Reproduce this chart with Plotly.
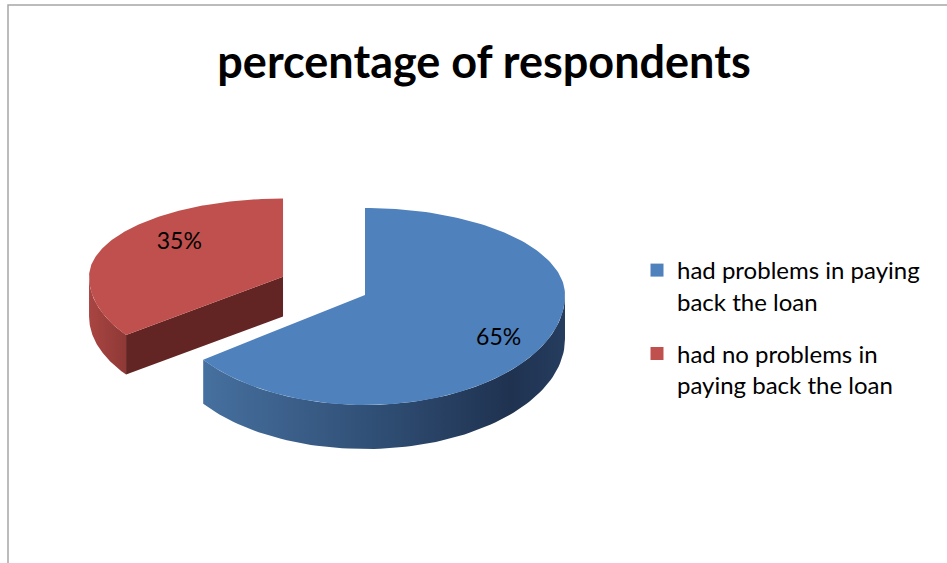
import numpy as np
import plotly.graph_objects as go

# Survey result
categories = ["had problems in paying back the loan", "had no problems in paying back the loan"]
legend_labels = ["had problems in paying<br>back the loan", "had no problems in<br>paying back the loan"]
values = [65, 35]
title_text = "percentage of respondents"

# Colours: top face, outer wall (left -> right gradient), cut face
top_colors = ["#4f81bd", "#c0504d"]
wall_scales = [
    [[0, "#46709f"], [0.5, "#2f4d73"], [0.85, "#1f3250"], [1, "#263d5f"]],
    [[0, "#a94542"], [1, "#8e3936"]],
]
cut_colors = ["#3a5f8c", "#632523"]

# Pie geometry in screen units (y grows downward)
W, H = 947, 563
cx, cy = 365, 295            # centre of the unexploded pie
rx = 200                     # horizontal radius
ry_back, ry_front = 87, 110  # vertical radius behind / in front of centre
depth = 44                   # thickness of the disc
pull = [0.0, 0.46]           # explode fraction per slice
shrink = [(1.0, 1.0), (0.97, 0.9)]  # perspective shrink of the far slice (x, y)


def rim(theta_deg, ox, oy, s=(1.0, 1.0), dz=0.0):
    t = np.radians(theta_deg)
    c = np.cos(t)
    ry = np.where(c >= 0, ry_back, ry_front)
    return ox + s[0] * rx * np.sin(t), oy - s[1] * ry * c + dz


total = float(sum(values))
fig = go.Figure()

starts = np.cumsum([0] + values[:-1]) / total * 360
spans = np.array(values) / total * 360

slices = []
for i in range(len(values)):
    a0, a1 = starts[i], starts[i] + spans[i]
    px, py = rim(np.array([(a0 + a1) / 2]), 0.0, 0.0)
    ox, oy = cx + pull[i] * px[0], cy + pull[i] * py[0]
    slices.append((i, a0, a1, ox, oy))

# Paint back slice (red) first, then front slice (blue)
for i, a0, a1, ox, oy in sorted(slices, key=lambda s: -s[0]):
    s = shrink[i]
    d = depth * s[1] if i else depth
    # outer wall: the part of the rim facing the viewer (90..270 deg)
    w0, w1 = max(a0, 90), min(a1, 270)
    if w1 > w0:
        th = np.linspace(w0, w1, 80)
        xt, yt = rim(th, ox, oy, s)
        xb, yb = rim(th[::-1], ox, oy, s, d)
        fig.add_trace(go.Scatter(
            x=np.concatenate([xt, xb]), y=np.concatenate([yt, yb]),
            fill="toself", mode="lines", line=dict(width=0),
            fillgradient=dict(type="horizontal", colorscale=wall_scales[i]),
            hoverinfo="skip", showlegend=False))
    # radial cut faces that turn toward the viewer
    for edge in (a0, a1):
        normal = edge - 90 if edge == a0 else edge + 90
        if np.cos(np.radians(normal)) < -0.05:
            ex, ey = rim(np.array([edge]), ox, oy, s)
            fig.add_trace(go.Scatter(
                x=[ox, ex[0], ex[0], ox], y=[oy, ey[0], ey[0] + d, oy + d],
                fill="toself", mode="lines", line=dict(width=0),
                fillcolor=cut_colors[i], hoverinfo="skip", showlegend=False))
    # top face
    th = np.linspace(a0, a1, 160)
    xt, yt = rim(th, ox, oy, s)
    fig.add_trace(go.Scatter(
        x=np.concatenate([[ox], xt, [ox]]), y=np.concatenate([[oy], yt, [oy]]),
        fill="toself", mode="lines", line=dict(width=0),
        fillcolor=top_colors[i], name=categories[i],
        hoverinfo="name", showlegend=False))

# Percentage labels placed inside each top face
label_r = [0.75, 0.6]
label_dy = [7, -12]
lx, ly, lt = [], [], []
for i, a0, a1, ox, oy in slices:
    mx, my = rim(np.array([(a0 + a1) / 2]), 0.0, 0.0, shrink[i])
    lx.append(ox + label_r[i] * mx[0])
    ly.append(oy + label_r[i] * my[0] + label_dy[i])
    lt.append(f"{values[i] / total * 100:.0f}%")
fig.add_trace(go.Scatter(
    x=lx, y=ly, text=lt, mode="text",
    textfont=dict(family="Lato", size=23, color="black"),
    hoverinfo="skip", showlegend=False))

# Legend entries
for i in range(len(values)):
    fig.add_trace(go.Scatter(
        x=[None], y=[None], mode="markers", name=legend_labels[i],
        legendgroup=f"g{i}",
        marker=dict(symbol="square", size=13, color=top_colors[i])))

fig.update_layout(
    width=W, height=H,
    margin=dict(l=0, r=0, t=0, b=0),
    paper_bgcolor="white", plot_bgcolor="white",
    xaxis=dict(range=[0, W], visible=False, fixedrange=True),
    yaxis=dict(range=[H, 0], visible=False, fixedrange=True),
    title=dict(text=f"<b>{title_text}</b>", x=484 / W, xanchor="center",
               y=1 - 62 / H, yanchor="middle",
               font=dict(family="Lato", size=45, color="black")),
    legend=dict(x=637 / W, y=1 - 248 / H, xanchor="left", yanchor="top",
                valign="top", traceorder="grouped", tracegroupgap=18, itemwidth=30,
                font=dict(family="Lato", size=24, color="black"),
                bgcolor="rgba(0,0,0,0)"),
    shapes=[dict(type="rect", xref="x", yref="y", x0=8, y0=5, x1=W + 5, y1=H + 5,
                 line=dict(color="#a6a6a6", width=1.5), layer="below")],
)

fig.write_html("out.html")
